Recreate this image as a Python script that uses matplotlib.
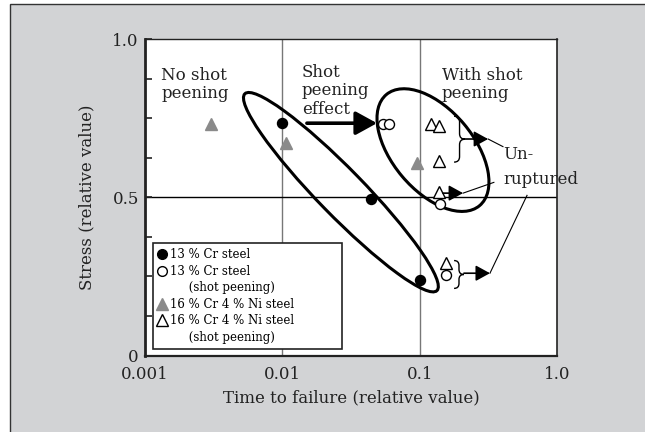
import numpy as np
import matplotlib
matplotlib.use('Agg')
import matplotlib.pyplot as plt
from matplotlib.lines import Line2D
from matplotlib.patches import Ellipse, Rectangle, PathPatch
from matplotlib.path import Path
from matplotlib.transforms import ScaledTranslation, IdentityTransform

plt.rcParams['font.family'] = ['DejaVu Serif']

# data (relative values)
cr13_x = [0.010, 0.044, 0.100]
cr13_y = [0.735, 0.493, 0.240]
cr13_sp_x = [0.054, 0.060, 0.141, 0.156]
cr13_sp_y = [0.733, 0.733, 0.478, 0.255]
ni_x = [0.0030, 0.0107, 0.095]
ni_y = [0.731, 0.672, 0.609]
ni_sp_x = [0.120, 0.139, 0.139, 0.139, 0.156]
ni_sp_y = [0.731, 0.725, 0.614, 0.517, 0.293]

x_ticks = [0.001, 0.01, 0.1, 1.0]
x_ticklabels = ['0.001', '0.01', '0.1', '1.0']
y_labels = {0.0: '0', 0.5: '0.5', 1.0: '1.0'}

legend_labels = ['13 % Cr steel', '13 % Cr steel', '     (shot peening)',
                 '16 % Cr 4 % Ni steel', '16 % Cr 4 % Ni steel', '     (shot peening)']

GRAY = '#8a8a8a'
BG = '#d2d3d5'

fig = plt.figure(figsize=(6.45, 4.32), dpi=100, facecolor='white')
# grey panel with thin frame
fig.patches.append(Rectangle((10 / 645, -0.05), 1.0, 1.05 - 4 / 432, transform=fig.transFigure,
                             facecolor=BG, edgecolor='#333333', linewidth=1.0, zorder=-10))

ax = fig.add_axes([145 / 645, 1 - 355.5 / 432, 412 / 645, 316.5 / 432])
ax.set_xscale('log')
ax.set_xlim(0.001, 1.0)
ax.set_ylim(0, 1.0)
ax.set_facecolor('white')

for s, w in [('left', 2.0), ('bottom', 1.6), ('top', 1.0), ('right', 1.2)]:
    ax.spines[s].set_linewidth(w)
    ax.spines[s].set_color('#222222')

ax.set_xticks(x_ticks)
ax.set_xticklabels(x_ticklabels)
ax.xaxis.set_minor_locator(matplotlib.ticker.NullLocator())
ax.tick_params(axis='x', length=0, pad=7.5, labelsize=12, colors='#222222')
yt = np.arange(0, 1.001, 0.125)
ax.set_yticks(yt)
ax.set_yticklabels([y_labels.get(round(v, 3), '') for v in yt])
ax.tick_params(axis='y', direction='in', length=5, width=1.2, pad=4.5, labelsize=12, colors='#222222')

ax.set_xlabel('Time to failure (relative value)', fontsize=12, color='#222222', labelpad=5)
ax.set_ylabel('Stress (relative value)', fontsize=12, color='#222222', labelpad=12.5)

# grid lines
for xv in [0.01, 0.1]:
    ax.axvline(xv, color='#777777', lw=1.0, zorder=1)
ax.axhline(0.5, color='black', lw=1.0, zorder=1)

# markers
ax.plot(cr13_x, cr13_y, 'o', ms=7.2, mfc='black', mec='black', zorder=4)
ax.plot(cr13_sp_x, cr13_sp_y, 'o', ms=7.2, mfc='white', mec='black', mew=1.0, zorder=4)
ax.plot(ni_x, ni_y, '^', ms=8.5, mfc=GRAY, mec=GRAY, zorder=4)
ax.plot(ni_sp_x, ni_sp_y, '^', ms=8.5, mfc='white', mec='black', mew=1.0, zorder=4)

# ellipses (centre in data, size in inches)
ellipses = [((0.0267, 0.516), 2.75, 0.46, -45.7), ((0.125, 0.649), 1.45, 0.81, -50.0)]
for (xc, yc), w, h, ang in ellipses:
    ax.add_patch(Ellipse((0, 0), w, h, angle=ang, fill=False, ec='black', lw=2.2,
                         transform=fig.dpi_scale_trans + ScaledTranslation(xc, yc, ax.transData),
                         zorder=3))

# shot peening effect arrow
ax.annotate('', xy=(0.0489, 0.734), xytext=(0.0151, 0.734),
            arrowprops=dict(arrowstyle='-|>,head_length=1.0,head_width=0.55', mutation_scale=13,
                            lw=2.6, color='black', shrinkA=0, shrinkB=0), zorder=5)

# braces
braces = [(0.178, 0.214, 0.756, 0.611), (0.178, 0.210, 0.300, 0.212)]
for xl, xt, ytop, ybot in braces:
    p0 = ax.transData.transform((xl, ytop))
    p1 = ax.transData.transform((xt, (ytop + ybot) / 2))
    p2 = ax.transData.transform((xl, ybot))
    xm = (p0[0] + p1[0]) / 2
    r = (p1[0] - p0[0]) / 2
    verts = [(p0[0], p0[1]), (xm, p0[1]), (xm, p0[1] - r), (xm, p1[1] + r),
             (xm, p1[1]), (p1[0], p1[1]), (xm, p1[1]), (xm, p1[1] - r),
             (xm, p2[1] + r), (xm, p2[1]), (p2[0], p2[1])]
    codes = [Path.MOVETO, Path.CURVE3, Path.CURVE3, Path.LINETO,
             Path.CURVE3, Path.CURVE3, Path.CURVE3, Path.CURVE3,
             Path.LINETO, Path.CURVE3, Path.CURVE3]
    ax.add_patch(PathPatch(Path(verts, codes), fill=False, ec='black', lw=1.0,
                           transform=IdentityTransform(), zorder=5))

# un-ruptured arrows and leaders
arrows = [((0.214, 0.684), (0.315, 0.684)), ((0.148, 0.513), (0.207, 0.513)),
          ((0.210, 0.260), (0.325, 0.260))]
leaders = [(0.404, 0.660), (0.347, 0.547), (0.605, 0.506)]
for (a, b), c in zip(arrows, leaders):
    ax.annotate('', xy=b, xytext=a,
                arrowprops=dict(arrowstyle='-|>,head_length=1.0,head_width=0.55', mutation_scale=8.6,
                                lw=1.2, color='black', shrinkA=0, shrinkB=0), zorder=5)
    ax.plot([b[0], c[0]], [b[1], c[1]], color='black', lw=0.8, zorder=5)

# texts
txt = dict(fontsize=12, color='#222222', va='top', ha='left', linespacing=1.12)
ax.text(0.00131, 0.912, 'No shot\npeening', **txt)
ax.text(0.0139, 0.922, 'Shot\npeening\neffect', **txt)
ax.text(0.1455, 0.913, 'With shot\npeening', **txt)
ax.text(0.404, 0.662, 'Un-\nruptured', fontsize=12, color='#222222', va='top', ha='left',
        linespacing=1.6)

# legend
handles = [Line2D([], [], ls='', marker='o', ms=7, mfc='black', mec='black'),
           Line2D([], [], ls='', marker='o', ms=7, mfc='white', mec='black'),
           Line2D([], [], ls=''),
           Line2D([], [], ls='', marker='^', ms=8, mfc=GRAY, mec=GRAY),
           Line2D([], [], ls='', marker='^', ms=8, mfc='white', mec='black'),
           Line2D([], [], ls='')]
leg = ax.legend(handles, legend_labels, loc='lower left', bbox_to_anchor=(0.0187, 0.022, 0.4587, 0.3),
                mode='expand', fontsize=8.5, frameon=True, fancybox=False, edgecolor='#222222',
                framealpha=1.0, handlelength=0.8, handletextpad=0.3, borderpad=0.4,
                labelspacing=0.3, borderaxespad=0)
leg.get_frame().set_linewidth(1.2)
leg.set_zorder(6)

fig.savefig('out.png', dpi=100, facecolor=fig.get_facecolor())
